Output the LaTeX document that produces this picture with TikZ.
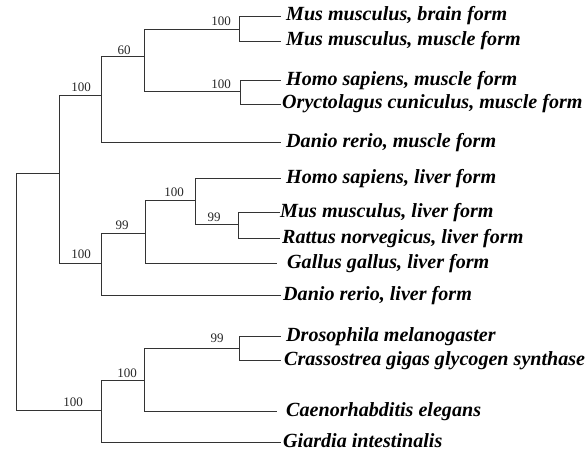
\documentclass[tikz,border=0pt]{standalone}
\usepackage{fontspec}
\setmainfont{Liberation Serif}
\begin{document}
\begin{tikzpicture}[x=1pt,y=-1pt,
  branch/.style={draw=black!80,line width=0.75pt},
  leaf/.style={anchor=base west,inner sep=0pt,font=\fontsize{20.1}{24}\selectfont\bfseries\itshape},
  bs/.style={inner sep=0pt,font=\fontsize{13}{15}\selectfont,text=black!85}]
\useasboundingbox (0,0) rectangle (587,452);
% internal nodes
\coordinate (R) at (16,291);
\coordinate (A) at (59,173);
\coordinate (B) at (101,95);
\coordinate (C) at (144,56);
\coordinate (D) at (239,29);
\coordinate (E) at (240,91);
\coordinate (F) at (101,263);
\coordinate (G) at (145,233);
\coordinate (H) at (195,200);
\coordinate (I) at (238,224);
\coordinate (J) at (101,410);
\coordinate (K) at (144,380);
\coordinate (L) at (239,348);
% tips
\coordinate (t1) at (281,16);
\coordinate (t2) at (281,41);
\coordinate (t3) at (281,80);
\coordinate (t4) at (281,104);
\coordinate (t5) at (281,142);
\coordinate (t6) at (281,178);
\coordinate (t7) at (280,212);
\coordinate (t8) at (280,238);
\coordinate (t9) at (277,263);
\coordinate (t10) at (281,295);
\coordinate (t11) at (281,336);
\coordinate (t12) at (281,360);
\coordinate (t13) at (277,411);
\coordinate (t14) at (281,442);
% branches
\draw[branch] (R) |- (A);
\draw[branch] (R) |- (J);
\draw[branch] (A) |- (B);
\draw[branch] (A) |- (F);
\draw[branch] (B) |- (C);
\draw[branch] (B) |- (t5);
\draw[branch] (C) |- (D);
\draw[branch] (C) |- (E);
\draw[branch] (D) |- (t1);
\draw[branch] (D) |- (t2);
\draw[branch] (E) |- (t3);
\draw[branch] (E) |- (t4);
\draw[branch] (F) |- (G);
\draw[branch] (F) |- (t10);
\draw[branch] (G) |- (H);
\draw[branch] (G) |- (t9);
\draw[branch] (H) |- (t6);
\draw[branch] (H) |- (I);
\draw[branch] (I) |- (t7);
\draw[branch] (I) |- (t8);
\draw[branch] (J) |- (K);
\draw[branch] (J) |- (t14);
\draw[branch] (K) |- (L);
\draw[branch] (K) |- (t13);
\draw[branch] (L) |- (t11);
\draw[branch] (L) |- (t12);
% leaf labels
\node[leaf] (l1) at ([xshift=5pt,yshift=-5pt]t1) {Mus musculus, brain form};
\node[leaf] (l2) at ([xshift=5pt,yshift=-5pt]t2) {Mus musculus, muscle form};
\node[leaf] (l3) at ([xshift=5pt,yshift=-5pt]t3) {Homo sapiens, muscle form};
\node[leaf] (l4) at ([xshift=1pt,yshift=-5pt]t4) {Oryctolagus cuniculus, muscle form};
\node[leaf] (l5) at ([xshift=5pt,yshift=-5pt]t5) {Danio rerio, muscle form};
\node[leaf] (l6) at ([xshift=5pt,yshift=-5pt]t6) {Homo sapiens, liver form};
\node[leaf] (l7) at ([xshift=0pt,yshift=-5pt]t7) {Mus musculus, liver form};
\node[leaf] (l8) at ([xshift=2pt,yshift=-5pt]t8) {Rattus norvegicus, liver form};
\node[leaf] (l9) at ([xshift=10pt,yshift=-5pt]t9) {Gallus gallus, liver form};
\node[leaf] (l10) at ([xshift=2pt,yshift=-5pt]t10) {Danio rerio, liver form};
\node[leaf] (l11) at ([xshift=5pt,yshift=-5pt]t11) {Drosophila melanogaster};
\node[leaf] (l12) at ([xshift=3pt,yshift=-5pt]t12) {Crassostrea gigas glycogen synthase};
\node[leaf] (l13) at ([xshift=9pt,yshift=-5pt]t13) {Caenorhabditis elegans};
\node[leaf] (l14) at ([xshift=2pt,yshift=-5pt]t14) {Giardia intestinalis};
% bootstrap labels
\node[bs] (b1) at (221,21) {100};
\node[bs] (b2) at (124,50) {60};
\node[bs] (b3) at (221,84) {100};
\node[bs] (b4) at (81,87) {100};
\node[bs] (b5) at (174,192) {100};
\node[bs] (b6) at (214,217) {99};
\node[bs] (b7) at (122,225) {99};
\node[bs] (b8) at (81,254) {100};
\node[bs] (b9) at (217,338) {99};
\node[bs] (b10) at (127,373) {100};
\node[bs] (b11) at (73,402) {100};
\end{tikzpicture}
\end{document}
